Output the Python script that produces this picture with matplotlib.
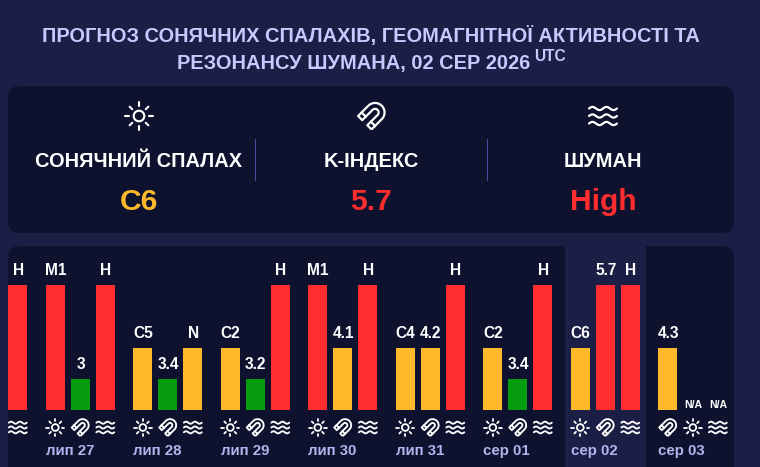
import numpy as np
import matplotlib
matplotlib.use("Agg")
import matplotlib.pyplot as plt
from matplotlib.patches import FancyBboxPatch, Rectangle, Circle, PathPatch
from matplotlib.path import Path
from matplotlib.transforms import Affine2D

plt.rcParams["font.family"] = ["Liberation Sans", "DejaVu Sans"]

# --------------------------------------------------
# Data
# --------------------------------------------------
TITLE_1 = "ПРОГНОЗ СОНЯЧНИХ СПАЛАХІВ, ГЕОМАГНІТНОЇ АКТИВНОСТІ ТА"
TITLE_2 = "РЕЗОНАНСУ ШУМАНА, 02 СЕР 2026"

card_titles = ["СОНЯЧНИЙ СПАЛАХ", "K-ІНДЕКС", "ШУМАН"]
card_values = ["C6", "5.7", "High"]
card_levels = [50, 100, 100]

days = ["", "лип 27", "лип 28", "лип 29", "лип 30", "лип 31", "сер 01", "сер 02", "сер 03"]

flare_labels = [None, "M1", "C5", "C2", "M1", "C4", "C2", "C6", "N/A"]
flare_levels = [None, 100, 50, 50, 100, 50, 50, 50, 0]
kp_labels = [None, "3", "3.4", "3.2", "4.1", "4.2", "3.4", "5.7", "4.3"]
kp_levels = [None, 25, 25, 25, 50, 50, 25, 100, 50]
sch_labels = ["H", "H", "N", "H", "H", "H", "H", "H", "N/A"]
sch_levels = [100, 100, 50, 100, 100, 100, 100, 100, 0]

# --------------------------------------------------
# Style
# --------------------------------------------------
W, H = 760, 467
BG = "#1c1f45"
PANEL = "#0e122e"
TITLE_C = "#c5caff"
DATE_C = "#b0b5ee"
DIVIDER = "#4a4e9e"
COLORS = {25: "#069e10", 50: "#fdb92a", 100: "#ff2d2d"}
BAR_W = 19
GROUP_STEP = 87.5
BAR_STEP = 25
FIRST_X = -41.7


def px(size):
    return size * 0.72


fig = plt.figure(figsize=(W / 100, H / 100), dpi=100, facecolor=BG)

# page in pixel coordinates, y pointing down
ax = fig.add_axes([0, 0, 1, 1])
ax.set_xlim(0, W)
ax.set_ylim(H, 0)
ax.axis("off")


def sun(cx, cy, s):
    lw = px(2.1 * max(s, 0.85))
    ax.add_patch(Circle((cx, cy), 5.3 * s, fill=False, ec="white", lw=lw, zorder=5))
    for deg in range(0, 360, 45):
        a = np.deg2rad(deg)
        r0, r1 = (9.8, 14) if deg % 90 == 0 else (9.6, 13.2)
        ax.plot([cx + r0 * s * np.cos(a), cx + r1 * s * np.cos(a)],
                [cy + r0 * s * np.sin(a), cy + r1 * s * np.sin(a)],
                color="white", lw=lw, solid_capstyle="round", zorder=5)


def magnet(cx, cy, s):
    # horseshoe drawn upright, then turned so the arc sits top right
    lw = px(2.2 * max(s, 0.85))
    R, r, arc_y, end_y, band_y = 9.5, 3.6, 5, -9.5, -4.5
    t = np.linspace(np.pi, 0, 40)
    outer = np.c_[R * np.cos(t), arc_y + R * np.sin(t)]
    inner = np.c_[r * np.cos(t[::-1]), arc_y + r * np.sin(t[::-1])]
    pts = np.vstack([[(-R, end_y)], outer, [(R, end_y), (r, end_y)], inner, [(-r, end_y), (-R, end_y)]])
    tr = Affine2D().rotate_deg(225).scale(s, s).translate(cx, cy)
    ax.add_patch(PathPatch(Path(tr.transform(pts)), fc="none", ec="white", lw=lw,
                           joinstyle="round", zorder=5))
    bands = tr.transform(np.array([(-R, band_y), (-r, band_y), (r, band_y), (R, band_y)]))
    ax.plot(bands[:2, 0], bands[:2, 1], color="white", lw=lw, zorder=5)
    ax.plot(bands[2:, 0], bands[2:, 1], color="white", lw=lw, zorder=5)


def waves(cx, cy, s):
    lw = px(2.2 * max(s, 0.85))
    x = np.linspace(-14, 14, 60)
    for off in (-7.5, 0, 7.5):
        y = off - 1.6 * np.sin(x * 2 * np.pi / 14)
        ax.plot(cx + x * s, cy + y * s, color="white", lw=lw, solid_capstyle="round", zorder=5)


ICONS = {"f": sun, "k": magnet, "s": waves}

# --------------------------------------------------
# Header and summary card
# --------------------------------------------------
ax.text(371, 42, TITLE_1, color=TITLE_C, fontsize=px(20), fontweight="bold", ha="center", va="baseline")
ax.text(177, 69, TITLE_2, color=TITLE_C, fontsize=px(20), fontweight="bold", ha="left", va="baseline")
ax.text(534.5, 61, "UTC", color=TITLE_C, fontsize=px(15.5), fontweight="bold", ha="left", va="baseline")

ax.add_patch(FancyBboxPatch((8 + 12, 86 + 12), 726 - 24, 147 - 24, boxstyle="round,pad=12,rounding_size=12",
                            fc=PANEL, ec="none"))

for cx, icon, name, val, lev in zip([139, 371, 603], "fks", card_titles, card_values, card_levels):
    ICONS[icon](cx + (0.5 if icon == "k" else 0), 116, 1.0)
    ax.text(cx, 167, name, color="white", fontsize=px(20), fontweight="bold", ha="center", va="baseline")
    ax.text(cx, 210.5, val, color=COLORS[lev], fontsize=px(30), fontweight="bold", ha="center", va="baseline")

for x in [254.5, 486.5]:
    ax.plot([x, x], [139, 180], color=DIVIDER, lw=px(1), zorder=3)

# --------------------------------------------------
# Bars panel
# --------------------------------------------------
ax.add_patch(FancyBboxPatch((8 + 12, 246 + 12), 726 - 24, 260, boxstyle="round,pad=12,rounding_size=12",
                            fc=PANEL, ec="none"))
ax.add_patch(Rectangle((565, 246), 81, 221, fc=BG, ec="none", zorder=1))

# bars get their own axes: level 0-100 maps to y=410..285 px
bax = fig.add_axes([0, (H - 410) / H, 1, 125 / H])
bax.set_xlim(0, W)
bax.set_ylim(0, 100)
bax.axis("off")
bax.patch.set_alpha(0)

for g, day in enumerate(days):
    start = FIRST_X + g * GROUP_STEP
    if g == len(days) - 1:
        order = [("k", kp_labels[g], kp_levels[g]), ("f", flare_labels[g], flare_levels[g]), ("s", sch_labels[g], sch_levels[g])]
    else:
        order = [("f", flare_labels[g], flare_levels[g]), ("k", kp_labels[g], kp_levels[g]), ("s", sch_labels[g], sch_levels[g])]

    for b, (icon, label, level) in enumerate(order):
        if level is None:
            continue
        x = start + b * BAR_STEP
        cx = x + BAR_W / 2
        if level > 0:
            bax.bar(x, level, width=BAR_W, align="edge", color=COLORS[level], linewidth=0)
            bax.annotate(label, (cx + 0.4, level), xytext=(0, px(10)), textcoords="offset points", color="white",
                         fontsize=px(15.5), fontweight="bold", ha="center", va="baseline", annotation_clip=False)
        else:
            bax.annotate(label, (cx + 0.4, 0), xytext=(0, px(2.5)), textcoords="offset points", color="white",
                         fontsize=px(10.5), fontweight="bold", ha="center", va="baseline", annotation_clip=False)
        ICONS[icon](cx, 427.5, 0.64)

    if day:
        ax.text(start, 455, day, color=DATE_C, fontsize=px(15), fontweight="bold", ha="left", va="baseline")

fig.savefig("out.png", dpi=100, facecolor=BG)
